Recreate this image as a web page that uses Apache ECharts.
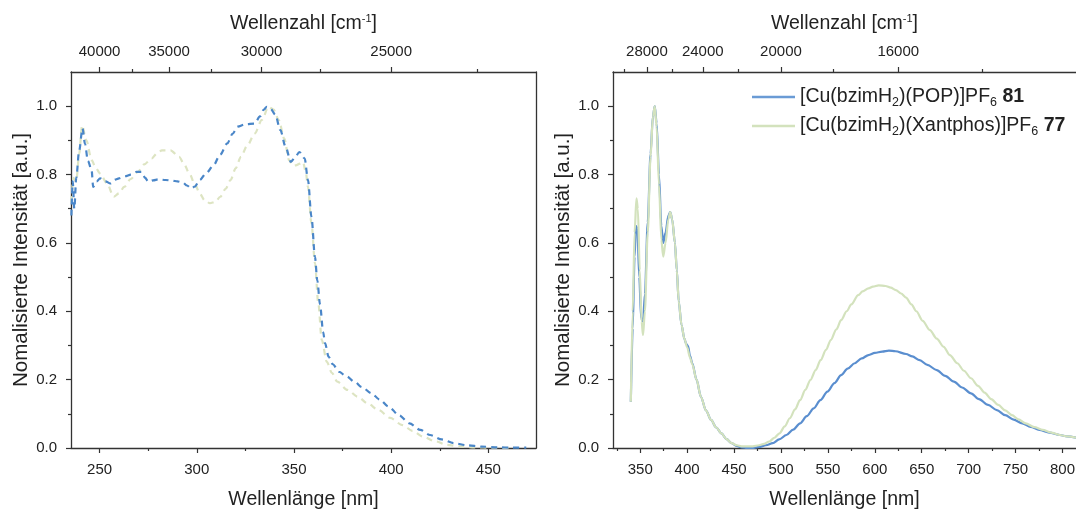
<!DOCTYPE html>
<html>
<head>
<meta charset="utf-8">
<script src="https://cdn.jsdelivr.net/npm/echarts@6/dist/echarts.min.js"></script>
<style>
html,body{margin:0;padding:0;background:#fff;}
#c{width:1076px;height:509px;}
</style>
</head>
<body>
<div id="c"></div>
<script>
// ---------- DATA ----------
// Left panel: absorption (dashed)
const absX81 = [235.5,236.2,237,238,239.5,241.2,242.5,244,245.9,246.7,248.5,250.3,253,255.6,258,260,263,266.2,269,271.5,273.5,275,277.5,280.3,284,287.4,290,292.7,295,297.1,299,301.5,305,308.6,312,315.7,318.5,321,325,329.8,332.5,334.5,336,338,340.4,343,345.7,348.4,350.5,352.8,355.5,357.2,359,360.8,362,363.4,365,366,367.8,370,373.1,377,381.1,385,389.9,394,398.7,404,409.4,415,420,426,432.3,439,446.5,455,462,469.5];
const absY81 = [0.68,0.78,0.70,0.79,0.87,0.935,0.89,0.84,0.813,0.764,0.78,0.789,0.78,0.774,0.785,0.789,0.795,0.80,0.808,0.808,0.79,0.779,0.783,0.786,0.784,0.782,0.78,0.777,0.768,0.759,0.765,0.784,0.805,0.827,0.858,0.891,0.92,0.94,0.947,0.949,0.97,0.99,0.998,0.992,0.975,0.93,0.881,0.837,0.85,0.866,0.847,0.784,0.676,0.559,0.49,0.42,0.34,0.306,0.267,0.245,0.223,0.21,0.194,0.178,0.160,0.142,0.121,0.096,0.072,0.053,0.038,0.025,0.014,0.008,0.004,0.002,0.001,0.001];
const absX77 = [235.5,236.5,238,239.5,241,243.2,245.9,248,250.3,253.8,257.3,260,262.7,266,269.7,273,276.8,279.5,282.1,286.5,290.9,293.5,296.2,299,301.5,304,306.8,309.5,312.1,314.8,317.4,320,322.7,326,329.8,333.5,336.9,339.5,342.2,345,347.5,349.5,351,353,354.6,356,357.2,359,360.8,362.5,364.3,366.9,369.5,372.3,377.5,382.8,388,393.5,399.5,405.8,411,416.5,422.5,428.8,435,442.9,452,462];
const absY77 = [0.72,0.79,0.78,0.86,0.944,0.90,0.842,0.82,0.803,0.774,0.735,0.745,0.764,0.787,0.808,0.83,0.847,0.862,0.871,0.871,0.852,0.83,0.803,0.772,0.745,0.725,0.716,0.72,0.735,0.758,0.784,0.818,0.852,0.885,0.92,0.96,0.998,0.99,0.959,0.905,0.842,0.826,0.827,0.832,0.837,0.81,0.764,0.657,0.54,0.423,0.316,0.252,0.22,0.194,0.17,0.15,0.13,0.111,0.088,0.067,0.05,0.033,0.02,0.009,0.005,0.002,0.001,0.0];

// Right panel: excitation + emission (solid)
const emX81 = [340,342,344,345.5,347,349,351,353,355,358,361,363.5,365.5,367.5,370,372.5,374.5,377,380,382,384,387,389,391,394,397,399,401,403,405.5,410,414.7,420,425.5,431,436.5,442,447.5,453,458,465,470,476.6,484,491.2,498,505.8,513,520.3,527.5,534.9,542,549.5,557,564.1,571,578.6,586,593.2,600,607.8,615,622,633.3,640,647.8,656,666,675,684.3,693,702.5,711,720.7,730,738.9,748,757.1,766,775.3,786,797.2,805,815];
const emY81 = [0.135,0.35,0.56,0.65,0.64,0.5,0.38,0.37,0.45,0.66,0.86,0.97,1.0,0.95,0.8,0.65,0.6,0.63,0.68,0.69,0.67,0.6,0.52,0.43,0.36,0.32,0.305,0.298,0.27,0.248,0.2,0.15,0.11,0.082,0.06,0.043,0.026,0.014,0.006,0.002,0.0,0.0,0.003,0.008,0.014,0.025,0.038,0.054,0.072,0.093,0.116,0.14,0.165,0.19,0.213,0.232,0.248,0.262,0.272,0.278,0.282,0.285,0.283,0.275,0.268,0.257,0.243,0.228,0.211,0.194,0.177,0.16,0.143,0.126,0.111,0.096,0.083,0.072,0.062,0.053,0.045,0.038,0.034,0.03];
const emX77 = [340,342,344,346,347.5,349.5,351.5,353,355,358,361,363.5,365.5,367.5,370,372.5,374.5,377,380,382,384,387,389,391,394,397,400,403,405.5,410,414.7,420,425.5,431,436.5,442,447.5,453,458,462,470,476.6,482,487.5,493,498.4,504,509.4,515,520.3,526,531.3,537,542.2,548,553.1,559,564.1,570,575,582.3,587,593.2,598,604.1,611.4,617,622.4,628,633.3,639,644.2,651,658.7,666,673.4,680,687.9,695,702.5,710,717,724,731.6,739,746.2,753,760.8,770,779,788,797.2,805,815];
const emY77 = [0.135,0.4,0.63,0.73,0.7,0.52,0.37,0.33,0.4,0.63,0.85,0.97,1.0,0.94,0.77,0.61,0.56,0.6,0.67,0.69,0.67,0.6,0.52,0.43,0.36,0.32,0.295,0.265,0.245,0.2,0.15,0.11,0.082,0.06,0.043,0.026,0.014,0.008,0.005,0.005,0.005,0.008,0.012,0.019,0.03,0.043,0.063,0.087,0.113,0.14,0.17,0.199,0.228,0.257,0.287,0.316,0.347,0.374,0.4,0.42,0.447,0.458,0.467,0.472,0.476,0.474,0.469,0.462,0.452,0.44,0.42,0.4,0.372,0.345,0.32,0.296,0.272,0.248,0.226,0.204,0.182,0.162,0.143,0.126,0.11,0.096,0.084,0.072,0.061,0.053,0.045,0.038,0.034,0.03];

// Axis ticks
const leftNmMajor = [250,300,350,400,450];
const leftNmMinor = [275,325,375,425];
const leftKMajor = [40000,35000,30000,25000];
const leftKMinor = [42500,37500,32500,27500,22500];
const rightNmMajor = [350,400,450,500,550,600,650,700,750,800];
const rightNmMinor = [325,375,425,475,525,575,625,675,725,775];
const rightKMajor = [28000,24000,20000,16000];
const rightKMinor = [30000,26000,22000,18000,14000];
const yMajor = [0,0.2,0.4,0.6,0.8,1.0];
const yMinor = [0.1,0.3,0.5,0.7,0.9];

const seriesNames = ['[Cu(bzimH2)(POP)]PF6 81','[Cu(bzimH2)(Xantphos)]PF6 77'];
const legendRich = {
  '[Cu(bzimH2)(POP)]PF6 81': '{n|[Cu(bzimH}{s|2}{n|)(POP)]PF}{s|6}{b| 81}',
  '[Cu(bzimH2)(Xantphos)]PF6 77': '{n|[Cu(bzimH}{s|2}{n|)(Xantphos)]PF}{s|6}{b| 77}'
};

// ---------- CHART ----------
const FONT = "'Liberation Sans', Arial, sans-serif";
const AX = '#333';
const TXT = '#222';
const zip = (xs, ys) => xs.map((x, i) => [x, ys[i]]);
const toNm = ks => ks.map(k => 1e7 / k);

const L = {min: 235.3, max: 474.5};
const R = {min: 321, max: 814.4};

function xMajor(grid, range, vals, pos, name, gap, fmt, margin) {
  return {
    type: 'value', gridIndex: grid, position: pos, min: range.min, max: range.max,
    axisLine: {show: true, onZero: false, lineStyle: {color: AX, width: 1.3}},
    axisTick: {show: true, customValues: vals, length: 5, lineStyle: {color: AX, width: 1.2}},
    axisLabel: {show: true, customValues: vals, formatter: fmt, color: TXT, fontSize: 15, fontFamily: FONT, margin: margin},
    splitLine: {show: false},
    name: name, nameLocation: 'middle', nameGap: gap,
    nameTextStyle: {color: TXT, fontSize: 19.5, fontFamily: FONT,
      rich: {a: {fontSize: 19.5, fontFamily: FONT, color: TXT}, s: {fontSize: 11, fontFamily: FONT, color: TXT, verticalAlign: 'top', lineHeight: 22}}}
  };
}
function xMinor(grid, range, vals, pos) {
  return {
    type: 'value', gridIndex: grid, position: pos, min: range.min, max: range.max,
    axisLine: {show: false, onZero: false},
    axisTick: {show: true, customValues: vals, length: 3, lineStyle: {color: AX, width: 1.2}},
    axisLabel: {show: false}, splitLine: {show: false}
  };
}
function yMaj(grid) {
  return {
    type: 'value', gridIndex: grid, min: 0, max: 1.1, position: 'left',
    axisLine: {show: true, onZero: false, lineStyle: {color: AX, width: 1.3}},
    axisTick: {show: true, customValues: yMajor, length: 5, lineStyle: {color: AX, width: 1.2}},
    axisLabel: {show: true, customValues: yMajor, formatter: v => v.toFixed(1), color: TXT, fontSize: 15, fontFamily: FONT, margin: 14},
    splitLine: {show: false},
    name: 'Nomalisierte Intensität [a.u.]', nameLocation: 'middle', nameGap: 39,
    nameTextStyle: {color: TXT, fontSize: 20.5, fontFamily: FONT}
  };
}
function yMin(grid) {
  return {
    type: 'value', gridIndex: grid, min: 0, max: 1.1, position: 'left',
    axisLine: {show: false, onZero: false},
    axisTick: {show: true, customValues: yMinor, length: 3, lineStyle: {color: AX, width: 1.2}},
    axisLabel: {show: false}, splitLine: {show: false}
  };
}
function yFrame(grid) {
  return {
    type: 'value', gridIndex: grid, min: 0, max: 1.1, position: 'right',
    axisLine: {show: true, onZero: false, lineStyle: {color: AX, width: 1.3}},
    axisTick: {show: false}, axisLabel: {show: false}, splitLine: {show: false}
  };
}
const topName = '{a|Wellenzahl [cm}{s|-1}{a|]}';
const nmFmt = v => String(Math.round(v));
const kFmt = v => String(Math.round(1e7 / v / 100) * 100);

const option = {
  animation: false,
  backgroundColor: '#fff',
  grid: [
    {left: 71, top: 72, width: 465, height: 376, show: false, outerBoundsMode: 'none', containLabel: false},
    {left: 613, top: 72, width: 463, height: 376, show: false, outerBoundsMode: 'none', containLabel: false}
  ],
  xAxis: [
    xMajor(0, L, leftNmMajor, 'bottom', 'Wellenlänge [nm]', 42, nmFmt, 14),
    xMinor(0, L, leftNmMinor, 'bottom'),
    xMajor(0, L, toNm(leftKMajor), 'top', topName, 37, kFmt, 13),
    xMinor(0, L, toNm(leftKMinor), 'top'),
    xMajor(1, R, rightNmMajor, 'bottom', 'Wellenlänge [nm]', 42, nmFmt, 14),
    xMinor(1, R, rightNmMinor, 'bottom'),
    xMajor(1, R, toNm(rightKMajor), 'top', topName, 37, kFmt, 13),
    xMinor(1, R, toNm(rightKMinor), 'top')
  ],
  yAxis: [yMaj(0), yMin(0), yFrame(0), yMaj(1), yMin(1)],
  legend: {
    show: true, orient: 'vertical', left: 752, top: 87, padding: 0, itemWidth: 43, itemHeight: 2.6, itemGap: 7,
    icon: 'rect',
    data: seriesNames,
    formatter: n => legendRich[n],
    textStyle: {fontFamily: FONT, color: TXT, rich: {
      n: {fontSize: 19.5, fontFamily: FONT, color: TXT, lineHeight: 24},
      b: {fontSize: 19.5, fontFamily: FONT, color: TXT, fontWeight: 'bold', lineHeight: 24},
      s: {fontSize: 12.5, fontFamily: FONT, color: TXT, verticalAlign: 'bottom', lineHeight: 24}
    }}
  },
  series: [
    {name: seriesNames[1], type: 'line', xAxisIndex: 4, yAxisIndex: 3, data: zip(emX77, emY77), showSymbol: false, smooth: 0.3, smoothMonotone: 'x',
     lineStyle: {color: '#d3e2bd', width: 2.2}, itemStyle: {color: '#d3e2bd'}, z: 2},
    {name: seriesNames[0], type: 'line', xAxisIndex: 4, yAxisIndex: 3, data: zip(emX81, emY81), showSymbol: false, smooth: 0.3, smoothMonotone: 'x',
     lineStyle: {color: '#5a8ecf', width: 2.2}, itemStyle: {color: '#6a9bd5'}, z: 1},
    {name: 'abs77', type: 'line', xAxisIndex: 0, yAxisIndex: 0, data: zip(absX77, absY77), showSymbol: false, smooth: 0.3, smoothMonotone: 'x',
     lineStyle: {color: '#dde4c2', width: 2.2, type: [6, 5]}, z: 1},
    {name: 'abs81', type: 'line', xAxisIndex: 0, yAxisIndex: 0, data: zip(absX81, absY81), showSymbol: false, smooth: 0.3, smoothMonotone: 'x',
     lineStyle: {color: '#4a86c8', width: 2.2, type: [6, 5]}, z: 2}
  ]
};
const chart = echarts.init(document.getElementById('c'), null, {renderer: 'canvas'});
chart.setOption(option);
</script>
</body>
</html>
